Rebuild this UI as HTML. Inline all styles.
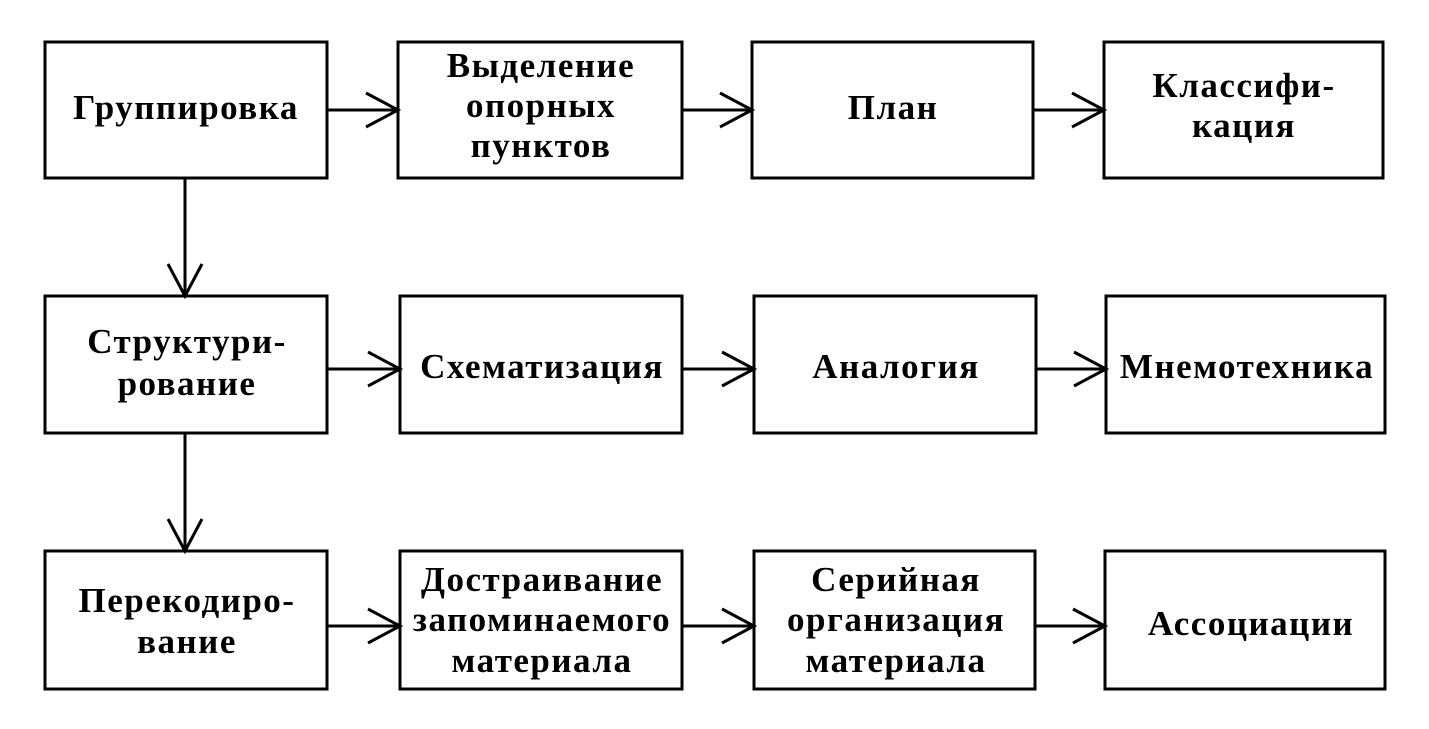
<!DOCTYPE html>
<html><head><meta charset="utf-8"><style>
html,body{margin:0;padding:0;background:#fff;}
svg{display:block}
text{font-family:"Liberation Serif",serif;font-weight:bold;font-size:35px;letter-spacing:1.5px;fill:#000;text-anchor:middle;}
</style></head><body>
<svg width="1429" height="729" viewBox="0 0 1429 729" xmlns="http://www.w3.org/2000/svg">
<g fill="none" stroke="#000" stroke-width="3">
<rect x="45" y="42" width="282" height="136"/>
<rect x="398" y="42" width="284" height="136"/>
<rect x="752" y="42" width="281" height="136"/>
<rect x="1104" y="42" width="279" height="136"/>
<rect x="45" y="296" width="282" height="137"/>
<rect x="400" y="296" width="282" height="137"/>
<rect x="754" y="296" width="282" height="137"/>
<rect x="1106" y="296" width="279" height="137"/>
<rect x="45" y="551" width="282" height="138"/>
<rect x="400" y="551" width="282" height="138"/>
<rect x="754" y="551" width="281" height="138"/>
<rect x="1105" y="551" width="280" height="138"/>
<path d="M327 110H398M366 93L398 110L366 127"/>
<path d="M682 110H752M720 93L752 110L720 127"/>
<path d="M1033 110H1104M1072 93L1104 110L1072 127"/>
<path d="M327 369H400M368 352L400 369L368 386"/>
<path d="M682 369H754M722 352L754 369L722 386"/>
<path d="M1036 369H1106M1074 352L1106 369L1074 386"/>
<path d="M327 626H400M368 609L400 626L368 643"/>
<path d="M682 626H754M722 609L754 626L722 643"/>
<path d="M1035 626H1105M1073 609L1105 626L1073 643"/>
<path d="M185 178V296M168 264L185 296L202 264"/>
<path d="M185 433V551M168 519L185 551L202 519"/>
</g>
<text x="186" y="119">Группировка</text>
<text x="541" y="77">Выделение</text>
<text x="541" y="117">опорных</text>
<text x="541" y="157">пунктов</text>
<text x="893" y="119">План</text>
<text x="1244" y="97">Классифи-</text>
<text x="1244" y="137">кация</text>
<text x="187" y="353">Структури-</text>
<text x="187" y="395">рование</text>
<text x="542" y="378">Схематизация</text>
<text x="896" y="378">Аналогия</text>
<text x="1247" y="378">Мнемотехника</text>
<text x="187" y="612">Перекодиро-</text>
<text x="187" y="653">вание</text>
<text x="542" y="591">Достраивание</text>
<text x="542" y="631">запоминаемого</text>
<text x="542" y="672">материала</text>
<text x="896" y="591">Серийная</text>
<text x="896" y="631">организация</text>
<text x="896" y="672">материала</text>
<text x="1251" y="635">Ассоциации</text>
</svg>
</body></html>
